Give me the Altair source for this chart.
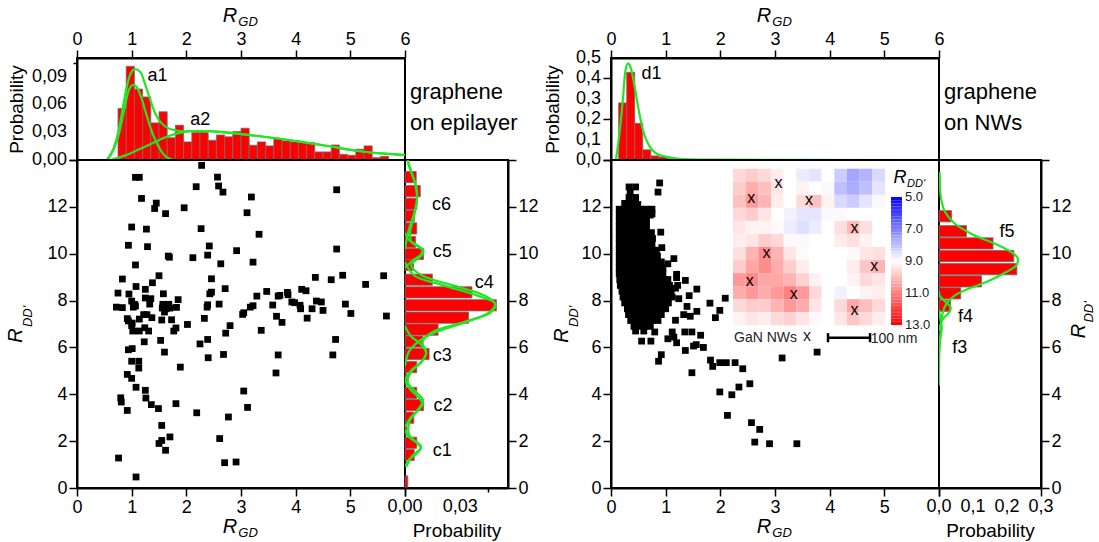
import altair as alt
import pandas as pd

FONT = "Liberation Sans"
RED = "#ff0000"
EDGE = "#6e6e6e"
GREEN = "#22e622"
W_MAIN = 328
H_MAIN = 328
H_TOP = 102
W_SIDE1 = 103
W_SIDE2 = 102
W_GAP = 103

# ======================= graphene on epilayer =======================
# top histogram of R_GD
epi_gd_bin_start = 0.75
epi_gd_bin_width = 0.15
epi_gd_prob = [0.0556, 0.101, 0.0765, 0.068, 0.040, 0.052, 0.024, 0.0375, 0.0195, 0.0296,
               0.0296, 0.0213, 0.027, 0.025, 0.0307, 0.0343, 0.0159, 0.0195, 0.0152, 0.0231,
               0.0206, 0.0195, 0.0188, 0.0188, 0.0087, 0.0087, 0.0162, 0.0061, 0.0051, 0.0116,
               0.0152, 0.0025, 0.004]
epi_gd_ticks = [0, 0.03, 0.06, 0.09]
epi_gd_minor = 0.015
epi_sum_rgd = [0.55, 0.67, 0.77, 0.87, 0.96, 1.06, 1.16, 1.25, 1.35, 1.44, 1.54, 1.70, 1.96,
               2.28, 2.66, 3.05, 3.56, 4.08, 4.59, 5.10, 5.62, 6.00]
epi_sum_p = [0.0, 0.0126, 0.034, 0.067, 0.090, 0.098, 0.095, 0.081, 0.063, 0.049, 0.040, 0.0335,
             0.031, 0.031, 0.030, 0.0277, 0.024, 0.0198, 0.0151, 0.010, 0.0068, 0.0054]
epi_a1_rgd = [0.55, 0.77, 0.87, 0.94, 1.03, 1.11, 1.20, 1.28, 1.38, 1.48, 1.57, 1.70, 1.77]
epi_a1_p = [0.0, 0.029, 0.056, 0.074, 0.081, 0.077, 0.063, 0.047, 0.029, 0.016, 0.0072, 0.001, 0.0]
epi_a2_rgd = [0.61, 0.87, 1.12, 1.38, 1.64, 1.89, 2.15, 2.41, 2.66, 3.05, 3.56, 4.08, 4.59, 5.10, 5.62, 6.00]
epi_a2_p = [0.0, 0.0047, 0.011, 0.018, 0.025, 0.0295, 0.0313, 0.0313, 0.030, 0.0277, 0.024,
            0.0198, 0.0151, 0.010, 0.0068, 0.0054]

# right histogram of R_DD'
epi_dd_center = [0.28, 1.41, 1.93, 2.49, 3.0, 3.54, 4.06, 4.62, 5.16, 5.72, 6.25, 6.76, 7.27,
                 7.8, 8.35, 8.89, 9.52, 9.99, 10.5, 11.08, 11.62, 12.13, 12.67, 13.27]
epi_dd_prob = [0.0015, 0.005, 0.0064, 0.001, 0.0048, 0.0101, 0.0064, 0.0015, 0.0064, 0.0131,
               0.0098, 0.018, 0.0346, 0.0497, 0.0364, 0.0149, 0.0046, 0.0101, 0.0057, 0.0064,
               0.0052, 0.0064, 0.0083, 0.0061]
epi_dd_bar = 0.48
epi_dd_ticks = [0, 0.03]
epi_dd_minor = 0.015
epi_csum_rdd = [0.9, 1.39, 1.75, 2.25, 2.82, 3.24, 3.74, 4.1, 4.52, 4.95, 5.45, 5.8, 6.23, 6.66,
                7.08, 7.51, 7.87, 8.22, 8.65, 9.08, 9.5, 9.93, 10.14, 10.5, 10.92, 11.5, 12.2,
                12.77, 13.34, 13.9]
epi_csum_p = [0.0006, 0.0042, 0.0088, 0.0024, 0.0024, 0.006, 0.0098, 0.006, 0.0015, 0.0033,
              0.0098, 0.0116, 0.0094, 0.015, 0.032, 0.047, 0.049, 0.043, 0.026, 0.009, 0.0033,
              0.009, 0.010, 0.0035, 0.0028, 0.0046, 0.0064, 0.0064, 0.004, 0.0015]
epi_c1_rdd = [0.9, 1.2, 1.45, 1.7, 1.95, 2.2, 2.5]
epi_c1_p = [0.0, 0.002, 0.006, 0.0085, 0.006, 0.002, 0.0]
epi_c2_rdd = [2.6, 3.0, 3.3, 3.6, 3.9, 4.2, 4.6]
epi_c2_p = [0.0, 0.003, 0.007, 0.0095, 0.007, 0.003, 0.0]
epi_c3_rdd = [4.6, 5.0, 5.4, 5.75, 6.1, 6.5, 6.9]
epi_c3_p = [0.0, 0.003, 0.009, 0.0115, 0.009, 0.003, 0.0]
epi_c4_rdd = [5.2, 5.8, 6.23, 6.66, 7.08, 7.51, 7.87, 8.22, 8.65, 9.08, 9.64]
epi_c4_p = [0.0, 0.002, 0.007, 0.017, 0.033, 0.046, 0.049, 0.039, 0.021, 0.005, 0.0]
epi_c5_rdd = [9.4, 9.7, 9.95, 10.15, 10.35, 10.6, 10.9]
epi_c5_p = [0.0, 0.004, 0.0085, 0.0095, 0.007, 0.002, 0.0]
epi_c6_rdd = [10.2, 11.0, 11.6, 12.3, 13.0, 13.6, 14.0]
epi_c6_p = [0.0, 0.002, 0.0045, 0.0065, 0.0055, 0.003, 0.0015]

# scatter (R_GD, R_DD')
epi_points = [
    (2.28, 13.77), (1.07, 13.26), (1.14, 13.26), (2.57, 13.27), (2.59, 12.89), (2.67, 12.63),
    (2.18, 12.86), (4.75, 12.73), (1.18, 12.36), (3.19, 12.42), (1.45, 12.16), (1.42, 11.93),
    (1.96, 11.96), (1.62, 11.71), (3.11, 11.75), (1.00, 11.14), (1.27, 11.05), (2.27, 11.07),
    (3.33, 10.83), (0.94, 10.36), (1.29, 10.30), (2.42, 10.33), (2.92, 10.13), (4.75, 10.20),
    (1.67, 9.90), (1.69, 9.85), (2.12, 9.83), (2.39, 9.94), (3.22, 9.64), (2.63, 9.57),
    (1.07, 9.52), (0.83, 8.92), (1.50, 9.06), (2.46, 8.93), (4.36, 8.99), (4.65, 8.89),
    (4.86, 9.08), (5.28, 8.69), (5.61, 9.06), (1.08, 8.60), (1.38, 8.76), (1.25, 8.48),
    (2.71, 8.51), (2.46, 8.36), (2.43, 8.29), (3.47, 8.39), (3.85, 8.35), (4.11, 8.48),
    (4.19, 8.42), (0.75, 8.32), (0.95, 8.28), (1.58, 8.29), (3.29, 8.19), (3.68, 8.19),
    (3.71, 8.22), (3.86, 8.25), (1.25, 8.11), (1.35, 8.08), (1.85, 8.04), (1.00, 7.98),
    (3.93, 7.94), (3.98, 7.91), (4.38, 7.98), (4.47, 7.94), (0.72, 7.72), (0.83, 7.70),
    (1.05, 7.84), (1.03, 7.72), (1.07, 7.77), (1.33, 7.85), (1.57, 7.84), (1.68, 7.84),
    (1.56, 7.68), (1.63, 7.65), (1.70, 7.68), (1.82, 7.71), (1.60, 7.51), (2.38, 7.72),
    (2.39, 7.82), (2.60, 7.85), (3.17, 7.72), (3.22, 7.78), (3.58, 7.81), (4.08, 7.80),
    (4.09, 7.65), (4.30, 7.65), (4.50, 7.58), (4.91, 7.85), (5.01, 7.45), (5.66, 7.34),
    (3.03, 7.41), (3.05, 7.48), (3.65, 7.33), (3.75, 7.07), (4.21, 7.25), (1.28, 7.40),
    (1.22, 7.40), (1.37, 7.27), (0.92, 7.23), (1.14, 7.21), (1.55, 7.17), (1.73, 7.18),
    (2.33, 7.24), (0.94, 7.13), (1.01, 7.04), (2.02, 6.98), (1.00, 6.93), (1.24, 6.84),
    (1.31, 6.70), (2.80, 6.93), (1.02, 6.70), (1.81, 6.83), (1.77, 6.70), (1.14, 6.70),
    (2.72, 6.61), (3.37, 6.73), (1.53, 6.30), (2.39, 6.34), (2.25, 6.15), (1.23, 6.24),
    (4.73, 6.34), (0.94, 5.90), (1.01, 5.95), (1.60, 5.80), (2.68, 5.70), (3.68, 5.68),
    (4.68, 5.68), (2.40, 5.56), (1.00, 5.41), (1.13, 5.41), (1.13, 5.12), (1.89, 5.16),
    (3.64, 4.91), (0.92, 4.85), (1.00, 4.68), (1.08, 4.30), (3.05, 4.14), (0.80, 3.85),
    (0.81, 3.67), (1.25, 4.17), (1.26, 3.84), (1.36, 3.56), (1.81, 3.60), (0.92, 3.31),
    (1.49, 3.39), (3.12, 3.44), (2.19, 3.21), (2.77, 3.03), (1.55, 2.67), (1.70, 2.18),
    (1.55, 2.03), (1.50, 1.90), (1.62, 1.61), (2.61, 2.11), (0.76, 1.28), (2.70, 1.08),
    (2.91, 1.11), (1.08, 0.47),
]

# ======================= graphene on NWs =======================
nw_gd_bin_start = 0.14
nw_gd_bin_width = 0.147
nw_gd_prob = [0.28, 0.43, 0.18, 0.05, 0.02, 0.015, 0.007, 0.002]
nw_gd_ticks = [0, 0.1, 0.2, 0.3, 0.4, 0.5]
nw_gd_minor = 0.05
nw_d1_rgd = [0.09, 0.15, 0.22, 0.26, 0.31, 0.36, 0.43, 0.51, 0.59, 0.69, 0.82, 1.02, 1.28, 1.94, 6.0]
nw_d1_p = [0.0, 0.12, 0.305, 0.43, 0.474, 0.454, 0.363, 0.24, 0.14, 0.074, 0.033, 0.015,
           0.005, 0.0015, 0.0]

nw_dd_center = [11.6, 10.96, 10.44, 9.9, 9.34, 8.82, 8.31, 7.78]
nw_dd_prob = [0.037, 0.081, 0.159, 0.22, 0.229, 0.125, 0.064, 0.034]
nw_dd_bar = 0.48
nw_dd_ticks = [0, 0.1, 0.2, 0.3]
nw_dd_minor = 0.05
nw_f5_rdd = [4.38, 5.8, 6.94, 7.44, 7.87, 8.22, 8.5, 8.79, 9.22, 9.5, 9.79, 10.07, 10.43,
             10.78, 11.28, 11.78, 12.35, 13.5]
nw_f5_p = [0.0, 0.001, 0.006, 0.01, 0.022, 0.047, 0.086, 0.139, 0.198, 0.227, 0.232, 0.212,
           0.164, 0.105, 0.047, 0.018, 0.006, 0.002]
nw_f4_rdd = [6.7, 6.94, 7.23, 7.5, 7.72, 7.94, 8.22, 8.4]
nw_f4_p = [0.0, 0.003, 0.012, 0.03, 0.034, 0.02, 0.002, 0.0]
nw_f3_rdd = [6.0, 6.4, 6.8, 7.2, 7.6]
nw_f3_p = [0.0, 0.004, 0.008, 0.004, 0.0]

# dense cluster: R_DD' row -> R_GD values of the squares in that row
nw_cluster_rows = {
    12.85: [0.33, 0.45],
    12.6: [0.35],
    12.4: [0.33, 0.45],
    12.15: [0.25, 0.35, 0.45],
    11.9: [0.15, 0.25, 0.35, 0.45, 0.55, 0.65, 0.75],
    11.65: [0.15, 0.25, 0.35, 0.45, 0.55, 0.65, 0.72],
    11.4: [0.15, 0.25, 0.35, 0.45, 0.55, 0.65],
    11.15: [0.15, 0.25, 0.35, 0.45, 0.55, 0.65],
    10.9: [0.15, 0.25, 0.35, 0.45, 0.55, 0.65, 0.74],
    10.65: [0.15, 0.25, 0.35, 0.45, 0.55, 0.65, 0.76],
    10.4: [0.15, 0.25, 0.35, 0.45, 0.55, 0.65, 0.75],
    10.15: [0.15, 0.25, 0.35, 0.45, 0.55, 0.65, 0.75, 0.83],
    9.9: [0.15, 0.25, 0.35, 0.45, 0.55, 0.65, 0.75, 0.85],
    9.65: [0.15, 0.25, 0.35, 0.45, 0.55, 0.65, 0.75, 0.85, 0.92],
    9.4: [0.15, 0.25, 0.35, 0.45, 0.55, 0.65, 0.75, 0.85, 0.95],
    9.15: [0.15, 0.25, 0.35, 0.45, 0.55, 0.65, 0.75, 0.85, 0.95],
    8.9: [0.16, 0.26, 0.36, 0.46, 0.56, 0.66, 0.76, 0.86, 0.96, 1.04],
    8.65: [0.17, 0.27, 0.37, 0.47, 0.57, 0.67, 0.77, 0.87, 0.97, 1.07],
    8.4: [0.2, 0.3, 0.4, 0.5, 0.6, 0.7, 0.8, 0.9, 1.0, 1.1],
    8.15: [0.22, 0.32, 0.42, 0.52, 0.62, 0.72, 0.82, 0.92, 1.02, 1.12],
    7.9: [0.25, 0.35, 0.45, 0.55, 0.65, 0.75, 0.85, 0.95, 1.05],
    7.65: [0.3, 0.4, 0.5, 0.6, 0.7, 0.8, 0.9, 1.0],
    7.4: [0.32, 0.42, 0.52, 0.62, 0.72, 0.82, 0.92],
    7.15: [0.36, 0.46, 0.56, 0.66, 0.76, 0.86],
    6.9: [0.42, 0.52, 0.62, 0.72],
    6.7: [0.45, 0.6],
}
nw_points = [
    (0.89, 13.02), (0.86, 12.63), (0.49, 12.1), (0.75, 11.7), (0.91, 10.92), (0.93, 10.26),
    (1.04, 9.57), (1.15, 9.79), (1.2, 9.12), (1.2, 8.98), (1.36, 8.86), (1.22, 8.65),
    (1.18, 8.53), (1.57, 8.49), (1.43, 8.21), (1.24, 8.08), (1.81, 7.89), (1.91, 7.27),
    (1.39, 7.75), (1.57, 7.54), (1.33, 7.4), (1.45, 7.33), (1.18, 7.16), (1.35, 6.66),
    (1.48, 6.66), (1.64, 6.52), (0.8, 6.66), (1.12, 6.66), (1.15, 6.44), (1.04, 6.37),
    (1.2, 6.2), (0.56, 6.27), (0.73, 6.27), (1.36, 5.87), (1.51, 6.06), (1.56, 6.12),
    (1.69, 6.0), (0.92, 5.69), (0.87, 5.41), (1.48, 4.92), (1.82, 5.46), (1.86, 5.19),
    (2.09, 8.1), (1.99, 7.58), (3.77, 5.8), (3.13, 5.55), (1.99, 5.35), (2.11, 5.35),
    (2.27, 5.35), (2.41, 5.09), (2.54, 4.45), (2.34, 4.31), (1.99, 4.1), (2.21, 3.98),
    (2.13, 3.1), (2.57, 2.79), (2.72, 2.5), (2.63, 1.96), (2.9, 1.89), (3.40, 1.89),
]

# inset map of R_DD' (12 x 12 cells, top row first)
nw_map = [
    [9.6, 9.8, 9.6, 9.3, 9.0, 8.7, 8.6, 9.0, 8.2, 7.6, 7.8, 8.4],
    [9.8, 10.3, 10.0, 9.4, 9.0, 9.2, 9.0, 8.9, 8.0, 7.7, 8.0, 8.6],
    [10.0, 10.6, 10.2, 9.3, 9.0, 9.6, 10.0, 9.2, 8.4, 8.2, 8.6, 8.9],
    [9.6, 9.8, 9.4, 9.0, 8.8, 8.6, 8.6, 8.9, 9.1, 9.0, 9.0, 9.0],
    [9.4, 9.2, 9.2, 9.1, 8.7, 8.5, 8.7, 9.0, 9.5, 10.1, 9.5, 9.0],
    [9.3, 9.4, 9.8, 9.6, 9.1, 8.9, 9.0, 9.0, 9.3, 9.5, 9.2, 9.0],
    [9.5, 10.2, 10.8, 10.2, 9.4, 9.1, 9.0, 9.0, 9.0, 9.1, 9.4, 9.5],
    [9.8, 10.4, 10.8, 10.3, 9.8, 9.3, 9.0, 9.0, 9.0, 9.3, 9.9, 10.2],
    [10.6, 10.9, 10.4, 10.4, 10.2, 9.7, 9.2, 9.0, 9.0, 9.2, 9.6, 9.4],
    [10.3, 10.6, 10.3, 10.6, 11.0, 10.6, 9.6, 9.0, 8.8, 9.0, 9.2, 9.3],
    [9.6, 9.8, 9.8, 10.2, 10.6, 10.3, 9.4, 9.0, 9.6, 10.4, 10.0, 9.6],
    [9.2, 9.4, 9.3, 9.6, 9.7, 9.4, 9.1, 9.0, 9.4, 9.9, 9.6, 9.3],
]
nw_marker_u = [3.6, 1.44, 6.0, 9.6, 2.64, 11.16, 1.32, 4.8, 9.6]
nw_marker_v = [1.08, 2.28, 2.4, 4.56, 6.48, 7.44, 8.64, 9.6, 10.8]
map_ticks = [5.0, 7.0, 9.0, 11.0, 13.0]

# ======================= helpers =======================
def major(step):
    return f"abs(datum.value / {step} - round(datum.value / {step})) < 0.01"


def tick_size(step):
    return {"condition": {"test": major(step), "value": 8}, "value": 4}


def tick_values(vmax, minor):
    return [round(i * minor, 4) for i in range(int(round(vmax / minor + 1e-9)) + 1)]


def comma_labels(values, fmt):
    return pd.DataFrame({"v": values, "t": [format(v, fmt).replace(".", ",") for v in values]})


def txt(s, x, y, size=18, style="normal", align="left", baseline="middle", angle=0):
    return alt.Chart(pd.DataFrame({"s": [s]})).mark_text(
        text=s, font=FONT, fontSize=size, fontStyle=style, align=align,
        baseline=baseline, angle=angle, color="black",
    ).encode(x=x, y=y)


def curve_frame(series):
    parts = [pd.DataFrame({"c": name, "a": xs, "b": ys}) for name, xs, ys in series]
    return pd.concat(parts, ignore_index=True)


def x_axis_int(orient, hide_last):
    expr = "datum.value < 5.5 ? format(datum.value, 'd') : ''" if hide_last else "format(datum.value, 'd')"
    return alt.Axis(orient=orient, values=[0, 1, 2, 3, 4, 5, 6], title=None, tickSize=8,
                    labelExpr=expr, labelOverlap=False)


def y_axis_rdd(orient):
    return alt.Axis(orient=orient, values=list(range(15)), title=None, tickSize=tick_size(2),
                    labelExpr=f"{major(2)} && datum.value < 13 ? format(datum.value, 'd') : ''",
                    labelOverlap=False)


def top_hist(bin_start, bin_width, probs, curves, ymax, yticks, yminor, yfmt, notes, tpad):
    df = pd.DataFrame({"p": probs})
    df["lo"] = [bin_start + i * bin_width for i in range(len(probs))]
    df["hi"] = df["lo"] + bin_width
    ystep = yticks[1]
    bars = alt.Chart(df).mark_rect(fill=RED, stroke=EDGE, strokeWidth=0.8).encode(
        x=alt.X("lo:Q", scale=alt.Scale(domain=[0, 6], nice=False, zero=False),
                axis=x_axis_int("top", False)),
        x2="hi:Q",
        y=alt.Y("p:Q", scale=alt.Scale(domain=[0, ymax], nice=False),
                axis=alt.Axis(values=tick_values(ymax, yminor), title="Probability", labels=False,
                              tickSize=tick_size(ystep), titlePadding=tpad)),
        y2=alt.datum(0),
    )
    ylabels = alt.Chart(comma_labels(yticks, yfmt)).mark_text(
        font=FONT, fontSize=18, align="right", baseline="middle", color="black"
    ).encode(x=alt.value(-10), y="v:Q", text="t:N")
    lines = alt.Chart(curve_frame(curves)).mark_line(
        color=GREEN, strokeWidth=2.2, interpolate="monotone", clip=True
    ).encode(x="a:Q", y="b:Q", detail="c:N")
    layers = [bars, lines, ylabels] + [txt(t, alt.datum(x), alt.datum(y)) for t, x, y in notes]
    layers += [
        txt("R", alt.datum(2.93), alt.value(-42), size=20, style="italic", align="right"),
        txt("GD", alt.datum(2.95), alt.value(-36), size=13, style="italic"),
    ]
    return alt.layer(*layers).properties(width=W_MAIN, height=H_TOP)


def main_panel(points, rdd_x, extra=None):
    df = pd.DataFrame(points, columns=["rgd", "rdd"])
    pts = alt.Chart(df).mark_square(size=46, color="black", opacity=1).encode(
        x=alt.X("rgd:Q", scale=alt.Scale(domain=[0, 6], nice=False, zero=False),
                axis=x_axis_int("bottom", True)),
        y=alt.Y("rdd:Q", scale=alt.Scale(domain=[0, 14], nice=False), axis=y_axis_rdd("left")),
    )
    titles = [
        txt("R", alt.datum(2.93), alt.value(H_MAIN + 39), size=20, style="italic", align="right"),
        txt("GD", alt.datum(2.95), alt.value(H_MAIN + 45), size=13, style="italic"),
        txt("R", alt.value(rdd_x), alt.datum(6.51), size=20, style="italic", align="center", angle=270),
        txt("DD'", alt.value(rdd_x + 12), alt.datum(6.87), size=13, style="italic", angle=270),
    ]
    base = alt.layer(pts, *titles)
    if extra is None:
        return base.properties(width=W_MAIN, height=H_MAIN)
    return alt.layer(base, *extra).resolve_scale(
        x="independent", y="independent", color="independent"
    ).properties(width=W_MAIN, height=H_MAIN)


def right_hist(centers, probs, bar, curves, xmax, xticks, xminor, xfmt, notes, width, title_x=None):
    df = pd.DataFrame({"c": centers, "p": probs})
    df["lo"] = df["c"] - bar / 2
    df["hi"] = df["c"] + bar / 2
    xstep = xticks[1]
    bars = alt.Chart(df).mark_rect(fill=RED, stroke=EDGE, strokeWidth=0.8).encode(
        x=alt.X("p:Q", scale=alt.Scale(domain=[0, xmax], nice=False),
                axis=alt.Axis(values=tick_values(xmax, xminor), title="Probability", labels=False,
                              tickSize=tick_size(xstep), titlePadding=25)),
        x2=alt.datum(0),
        y=alt.Y("lo:Q", scale=alt.Scale(domain=[0, 14], nice=False), axis=y_axis_rdd("right")),
        y2="hi:Q",
    )
    xlabels = alt.Chart(comma_labels(xticks, xfmt)).mark_text(
        font=FONT, fontSize=18, align="center", baseline="top", color="black"
    ).encode(x="v:Q", y=alt.value(H_MAIN + 10), text="t:N")
    lines = alt.Chart(curve_frame(curves)).mark_line(
        color=GREEN, strokeWidth=2.2, interpolate="catmull-rom", clip=True
    ).encode(x="b:Q", y="a:Q", order="a:Q", detail="c:N")
    layers = [bars, lines, xlabels] + [txt(t, alt.datum(x), alt.datum(y)) for t, x, y in notes]
    if title_x is not None:
        layers += [
            txt("R", alt.value(title_x), alt.datum(6.7), size=20, style="italic", align="center", angle=270),
            txt("DD'", alt.value(title_x + 10), alt.datum(7.06), size=13, style="italic", angle=270),
        ]
    return alt.layer(*layers).properties(width=width, height=H_MAIN)


def label_cell(text, width):
    return alt.Chart(pd.DataFrame({"t": [text]})).mark_text(
        align="left", baseline="middle", fontSize=22, lineBreak="\n", lineHeight=31,
        font=FONT, color="black",
    ).encode(text="t:N", x=alt.value(5), y=alt.value(34)).properties(
        width=width, height=H_TOP, view=alt.ViewBackground(strokeOpacity=0)
    )


def spacer(h):
    return alt.Chart(pd.DataFrame({"v": [0]})).mark_point(opacity=0).encode(
        x=alt.X("v:Q", axis=None), y=alt.Y("v:Q", axis=None)
    ).properties(width=W_GAP, height=h, view=alt.ViewBackground(strokeOpacity=0))


# ======================= inset =======================
def inset_layers():
    cells = []
    for r, row in enumerate(nw_map):
        for c, v in enumerate(row):
            cells.append({"x0": c, "x1": c + 1, "y0": r, "y1": r + 1, "v": v})
    cdf = pd.DataFrame(cells)
    cscale = alt.Scale(domain=[5, 9, 13], range=["#0000ff", "#ffffff", "#ff0000"], interpolate="rgb")
    heat = alt.Chart(cdf).mark_rect().encode(
        x=alt.X("x0:Q", scale=alt.Scale(domain=[0, 12], range=[122, 274], nice=False, zero=False), axis=None),
        x2="x1:Q",
        y=alt.Y("y0:Q", scale=alt.Scale(domain=[0, 12], range=[8.7, 165.3], nice=False, zero=False), axis=None),
        y2="y1:Q",
        color=alt.Color("v:Q", scale=cscale, legend=None),
    )
    marks = alt.Chart(pd.DataFrame({"u": nw_marker_u, "w": nw_marker_v})).mark_text(
        text="x", font=FONT, fontSize=16, baseline="middle", align="center", color="black"
    ).encode(x="u:Q", y="w:Q")
    bar = alt.Chart(pd.DataFrame({"a": [7.5], "b": [10.82], "y": [12.95]})).mark_rule(
        color="black", strokeWidth=2.5).encode(x="a:Q", x2="b:Q", y="y:Q")
    caps = alt.Chart(pd.DataFrame({"a": [7.5, 10.82], "y": [12.6, 12.6], "y2": [13.3, 13.3]})).mark_rule(
        color="black", strokeWidth=2.5).encode(x="a:Q", y="y:Q", y2="y2:Q")
    gan = alt.Chart(pd.DataFrame({"a": [0.08], "y": [12.95]})).mark_text(
        text="GaN NWs", font=FONT, fontSize=14, align="left", baseline="middle", color="#222222"
    ).encode(x="a:Q", y="y:Q")
    gx = alt.Chart(pd.DataFrame({"a": [5.84], "y": [12.85]})).mark_text(
        text="x", font=FONT, fontSize=16, align="center", baseline="middle", color="#222222"
    ).encode(x="a:Q", y="y:Q")
    nm = alt.Chart(pd.DataFrame({"a": [10.87], "y": [13.05]})).mark_text(
        text="100 nm", font=FONT, fontSize=14, align="left", baseline="middle", color="#222222"
    ).encode(x="a:Q", y="y:Q")
    ctitle = [
        txt("R", alt.value(289), alt.value(18), size=18, style="italic", align="center"),
        txt("DD'", alt.value(296), alt.value(24), size=11, style="italic"),
    ]
    inset = alt.layer(heat, marks, bar, caps, gan, gx, nm, *ctitle)

    cb = pd.DataFrame({"v0": [5 + 0.2 * i for i in range(40)]})
    cb["v1"] = cb["v0"] + 0.2
    cb["vm"] = cb["v0"] + 0.1
    cbar = alt.Chart(cb).mark_rect().encode(
        x=alt.value(280), x2=alt.value(291),
        y=alt.Y("v0:Q", scale=alt.Scale(domain=[5, 13], range=[37, 165], nice=False, zero=False), axis=None),
        y2="v1:Q",
        color=alt.Color("vm:Q", scale=cscale, legend=None),
    )
    clab = alt.Chart(pd.DataFrame({"v": map_ticks, "t": [f"{t:.1f}" for t in map_ticks]})).mark_text(
        font=FONT, fontSize=13, align="left", baseline="middle", color="#222222"
    ).encode(x=alt.value(294), y="v:Q", text="t:N")
    colorbar = alt.layer(cbar, clab)
    return [inset, colorbar]


# ======================= panels =======================
top1 = top_hist(
    epi_gd_bin_start, epi_gd_bin_width, epi_gd_prob,
    [("sum", epi_sum_rgd, epi_sum_p), ("a1", epi_a1_rgd, epi_a1_p), ("a2", epi_a2_rgd, epi_a2_p)],
    0.11, epi_gd_ticks, epi_gd_minor, ".2f", [("a1", 1.29, 0.091), ("a2", 2.07, 0.043)], 42,
)
top2 = top_hist(
    nw_gd_bin_start, nw_gd_bin_width, nw_gd_prob,
    [("d1", nw_d1_rgd, nw_d1_p)],
    0.5, nw_gd_ticks, nw_gd_minor, ".1f", [("d1", 0.56, 0.424)], 40,
)

cluster_points = [(x, y) for y, xs in nw_cluster_rows.items() for x in xs]
main1 = main_panel(epi_points, -61)
main2 = main_panel(cluster_points + nw_points, -49, extra=inset_layers())

right1 = right_hist(
    epi_dd_center, epi_dd_prob, epi_dd_bar,
    [("sum", epi_csum_rdd, epi_csum_p), ("c1", epi_c1_rdd, epi_c1_p), ("c2", epi_c2_rdd, epi_c2_p),
     ("c3", epi_c3_rdd, epi_c3_p), ("c4", epi_c4_rdd, epi_c4_p), ("c5", epi_c5_rdd, epi_c5_p),
     ("c6", epi_c6_rdd, epi_c6_p)],
    0.056, epi_dd_ticks, epi_dd_minor, ".2f",
    [("c6", 0.0147, 12.07), ("c5", 0.0151, 10.09), ("c4", 0.0379, 8.76), ("c3", 0.0151, 5.65),
     ("c2", 0.0155, 3.48), ("c1", 0.0151, 1.56)],
    W_SIDE1,
)
right2 = right_hist(
    nw_dd_center, nw_dd_prob, nw_dd_bar,
    [("f5", nw_f5_rdd, nw_f5_p), ("f4", nw_f4_rdd, nw_f4_p), ("f3", nw_f3_rdd, nw_f3_p)],
    0.3, nw_dd_ticks, nw_dd_minor, ".1f",
    [("f5", 0.178, 10.94), ("f4", 0.056, 7.31), ("f3", 0.039, 5.97)],
    W_SIDE2, title_x=140,
)

chart = alt.concat(
    top1, label_cell("graphene\non epilayer", W_SIDE1), spacer(H_TOP), top2, label_cell("graphene\non NWs", W_SIDE2),
    main1, right1, spacer(H_MAIN), main2, right2,
    columns=5, spacing=0, bounds="flush", align="each",
).properties(
    padding={"left": 5, "top": 5, "right": 0, "bottom": 0}
).configure(
    font=FONT
).configure_view(
    stroke="black", strokeWidth=2
).configure_axis(
    domainColor="black", domainWidth=2, tickColor="black", tickWidth=1.5,
    labelColor="black", labelFont=FONT, labelFontSize=18, labelPadding=2,
    labelFlush=False, labelOverlap=False,
    titleFont=FONT, titleFontSize=19, titleFontWeight="normal", titleColor="black",
    grid=False,
)

chart.save("out.html", embed_options={"renderer": "svg", "actions": False})
